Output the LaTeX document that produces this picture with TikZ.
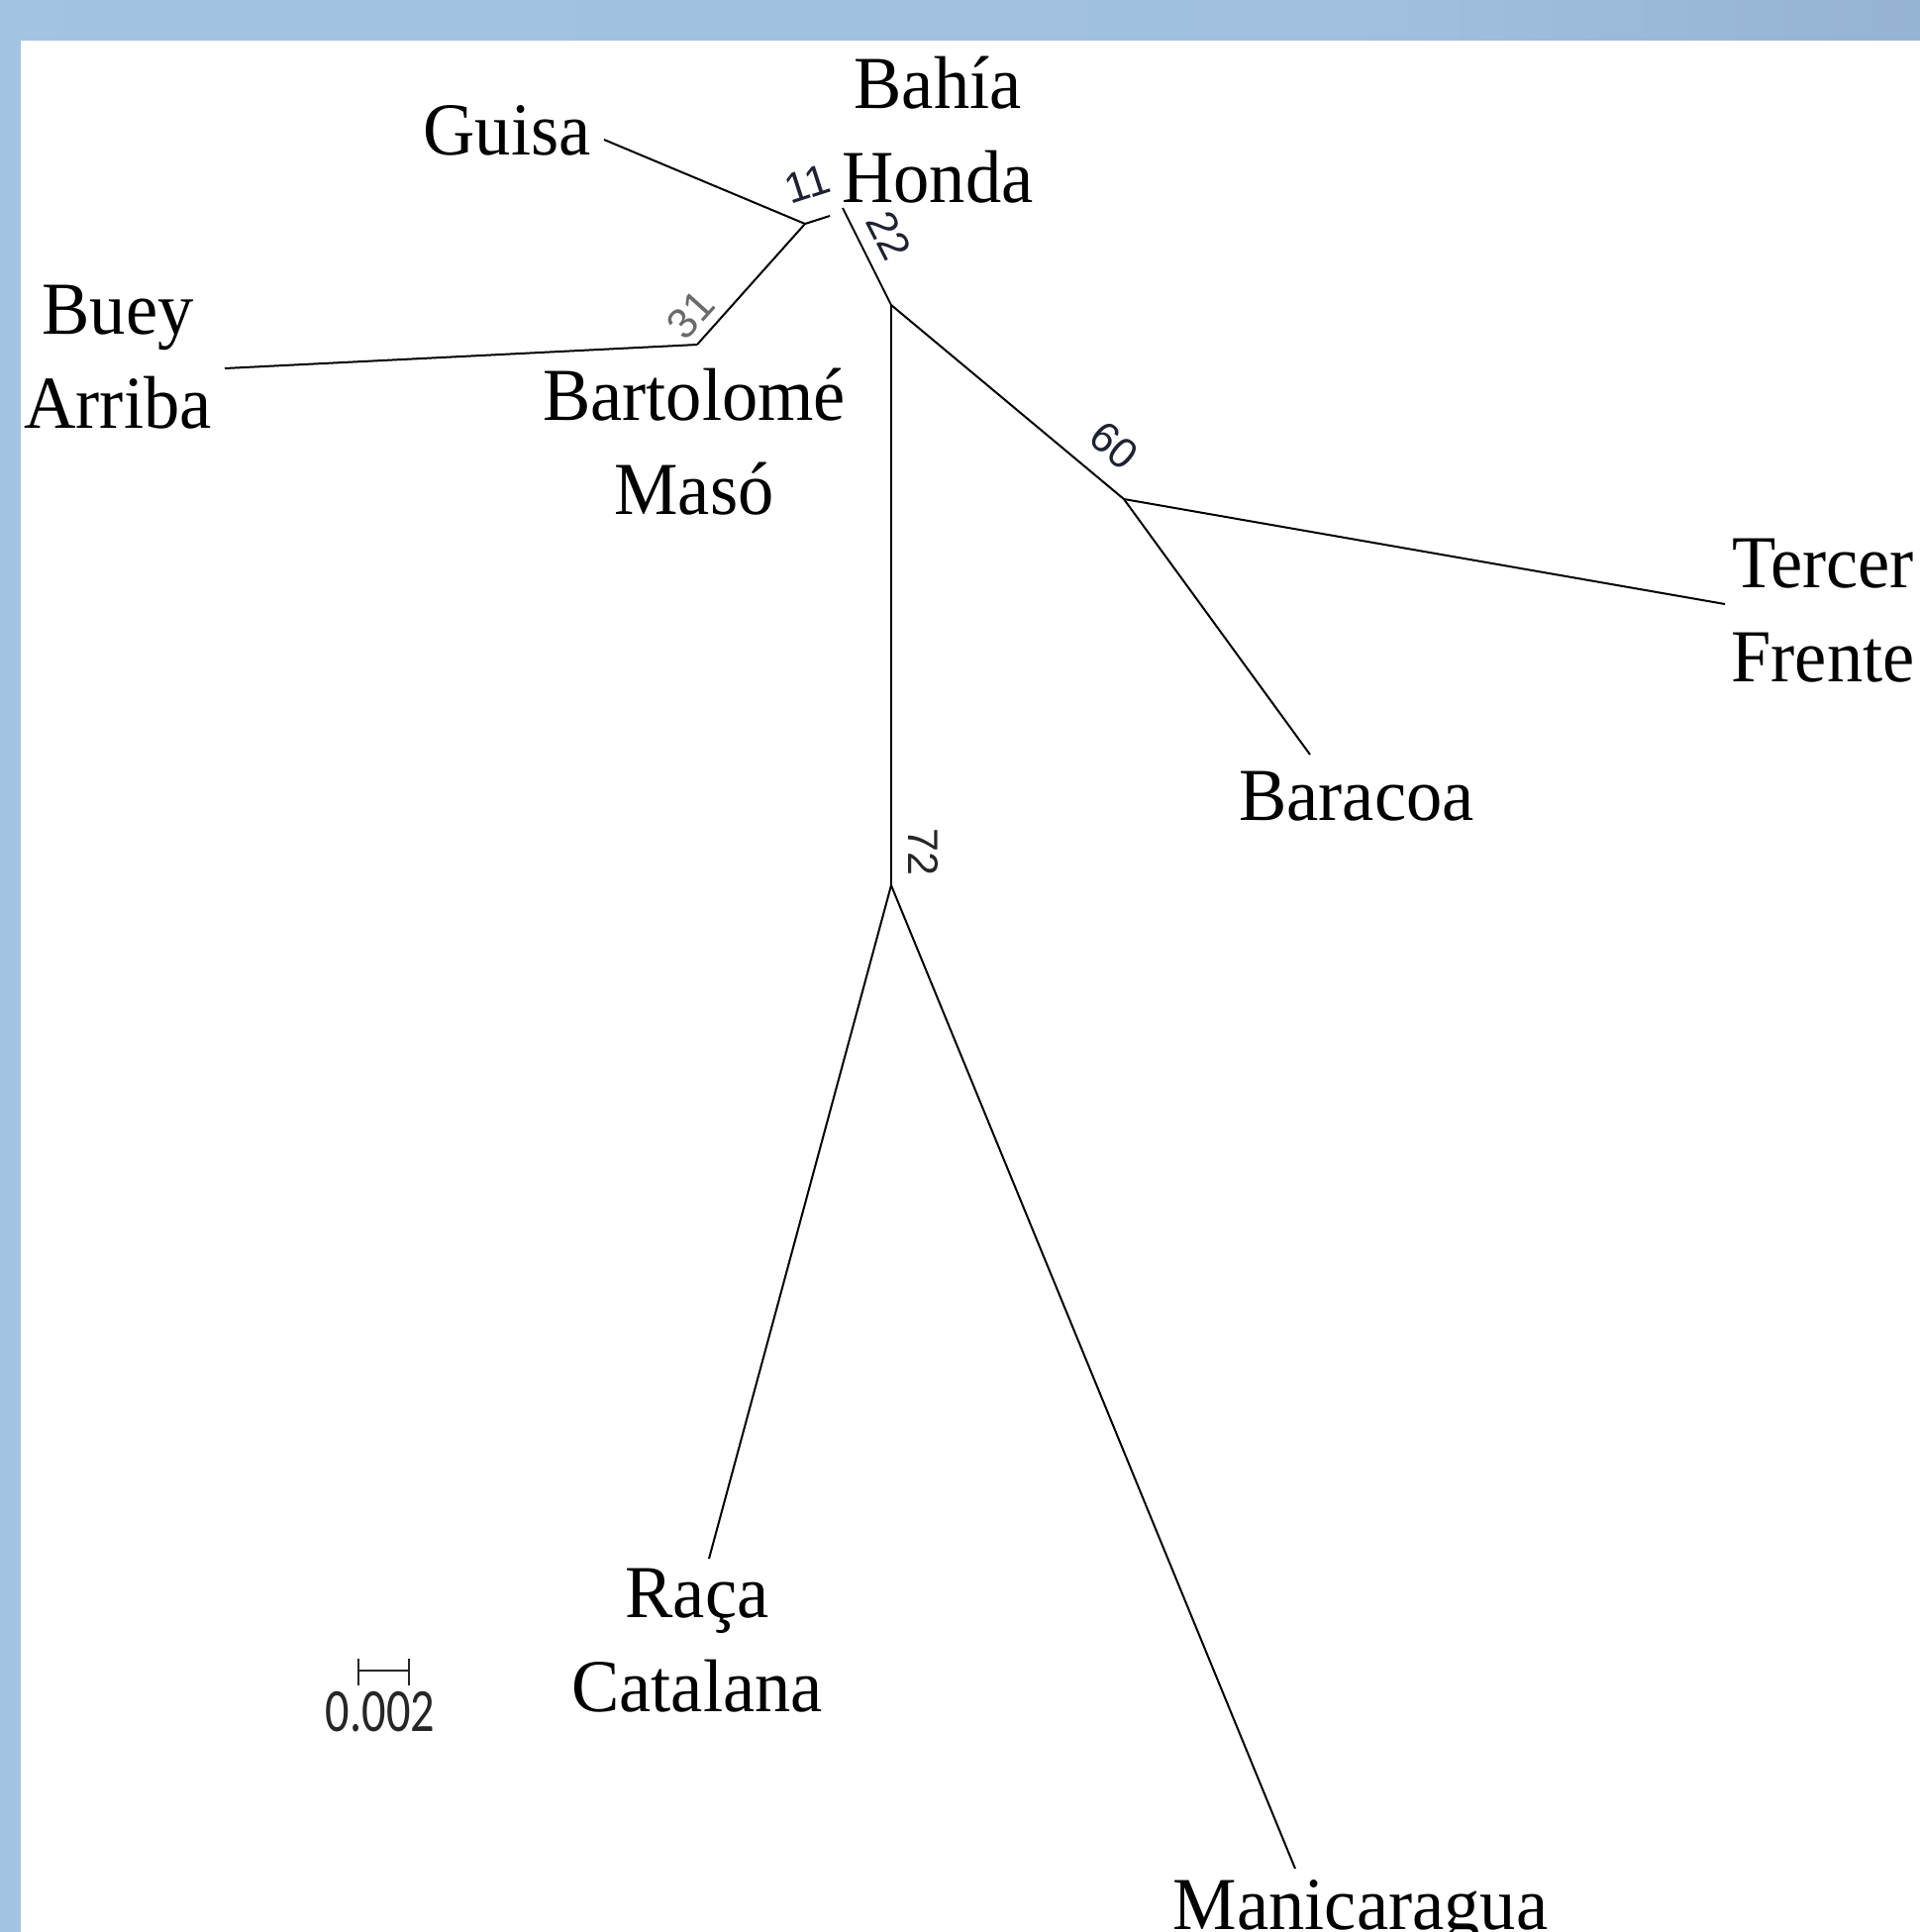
\documentclass[tikz,border=0pt]{standalone}
\usepackage{fontspec}
\setmainfont{Liberation Serif}[FakeStretch=0.96]
\newfontfamily\bsfont{Liberation Sans}
\newfontfamily\barfont{Carlito}

\definecolor{frameA}{HTML}{98B6D4}
\definecolor{frameB}{HTML}{A3C3E3}
\definecolor{frameC}{HTML}{A0C0DE}
\definecolor{frameD}{HTML}{93B1CF}
\definecolor{frameE}{HTML}{A2C4E2}
\definecolor{bootgray}{HTML}{6A6A6A}
\definecolor{bootdark}{HTML}{1E2233}

\pgfdeclarehorizontalshading{framebar}{100bp}{%
  color(0bp)=(frameA); color(20bp)=(frameB); color(60bp)=(frameC);
  color(78bp)=(frameD); color(93bp)=(frameD); color(100bp)=(frameE)}

\tikzset{
  branch/.style={draw=black, line width=1pt},
  taxon/.style={font=\fontsize{37.75}{47.5}\selectfont, inner sep=0pt, align=center, text=black},
  boot/.style={font=\bsfont\fontsize{21.5}{21.5}\selectfont, inner sep=0pt, text=bootdark},
  scalebar/.style={draw=black!85, line width=1.2pt},
}

\begin{document}
\begin{tikzpicture}[x=0.5pt, y=-0.5pt]
  \useasboundingbox (0,0) rectangle (1939,1951);
  \clip (0,0) rectangle (1939,1951);

  % window frame and white canvas
  \shade[shading=framebar] (0,0) rectangle (1939,1951);
  \fill[white] (21,41) rectangle (1939,1951);

  % tips and internal nodes of the tree
  \coordinate (tGuisa) at (610,141);
  \coordinate (nA)     at (813,226);
  \coordinate (cA)     at (838,218);
  \coordinate (tBH)    at (851,210);
  \coordinate (nB)     at (900,308);
  \coordinate (nD)     at (704,348);
  \coordinate (tBuey)  at (227,372);
  \coordinate (nF)     at (1135,504);
  \coordinate (tTF)    at (1742,610);
  \coordinate (tBar)   at (1323,762);
  \coordinate (nE)     at (900,894);
  \coordinate (tRaca)  at (716,1574);
  \coordinate (tMan)   at (1308,1887);

  % branches
  \draw[branch] (tGuisa) -- (nA);
  \draw[branch] (nA) -- (cA);
  \draw[branch] (nA) -- (nD);
  \draw[branch] (nD) -- (tBuey);
  \draw[branch] (tBH) -- (nB);
  \draw[branch] (nB) -- (nE);
  \draw[branch] (nB) -- (nF);
  \draw[branch] (nF) -- (tTF);
  \draw[branch] (nF) -- (tBar);
  \draw[branch] (nE) -- (tRaca);
  \draw[branch] (nE) -- (tMan);

  % taxon labels
  \node[taxon, anchor=base] (lGuisa) at (512,156) {Guisa};
  \node[taxon] (lBH)   at (947,131) {Bahía\\Honda};
  \node[taxon] (lBuey) at (119,361) {Buey\\Arriba};
  \node[taxon] (lBM)   at (701,446) {Bartolomé\\Masó};
  \node[taxon] (lTF)   at (1841,617) {Tercer\\Frente};
  \node[taxon, anchor=base] (lBar) at (1370,828) {Baracoa};
  \node[taxon] (lRaca) at (704,1657) {Raça\\Catalana};
  \node[taxon, anchor=base] (lMan) at (1374,1948) {Manicaragua};

  % bootstrap values along the branches
  \node[boot, rotate=18]  (b11) at (815,186) {11};
  \node[boot, rotate=-63] (b22) at (898,238) {22};
  \node[boot, rotate=48, text=bootgray] (b31) at (697,318) {31};
  \node[boot, rotate=-40] (b60) at (1125,450) {60};
  \node[boot, rotate=-90, text=black!85] (b72) at (933,860) {72};

  % scale bar
  \coordinate (sL) at (362,1687);
  \coordinate (sR) at (413,1687);
  \draw[scalebar] (sL) -- (sR);
  \draw[scalebar] ([yshift=6pt]sL) -- ([yshift=-7.5pt]sL);
  \draw[scalebar] ([yshift=6pt]sR) -- ([yshift=-7.5pt]sR);
  \node[anchor=base, inner sep=0pt, text=black!85] (sText) at (384,1748)
    {\scalebox{0.78}[1]{\barfont\fontsize{31}{31}\selectfont 0.002}};
\end{tikzpicture}
\end{document}
